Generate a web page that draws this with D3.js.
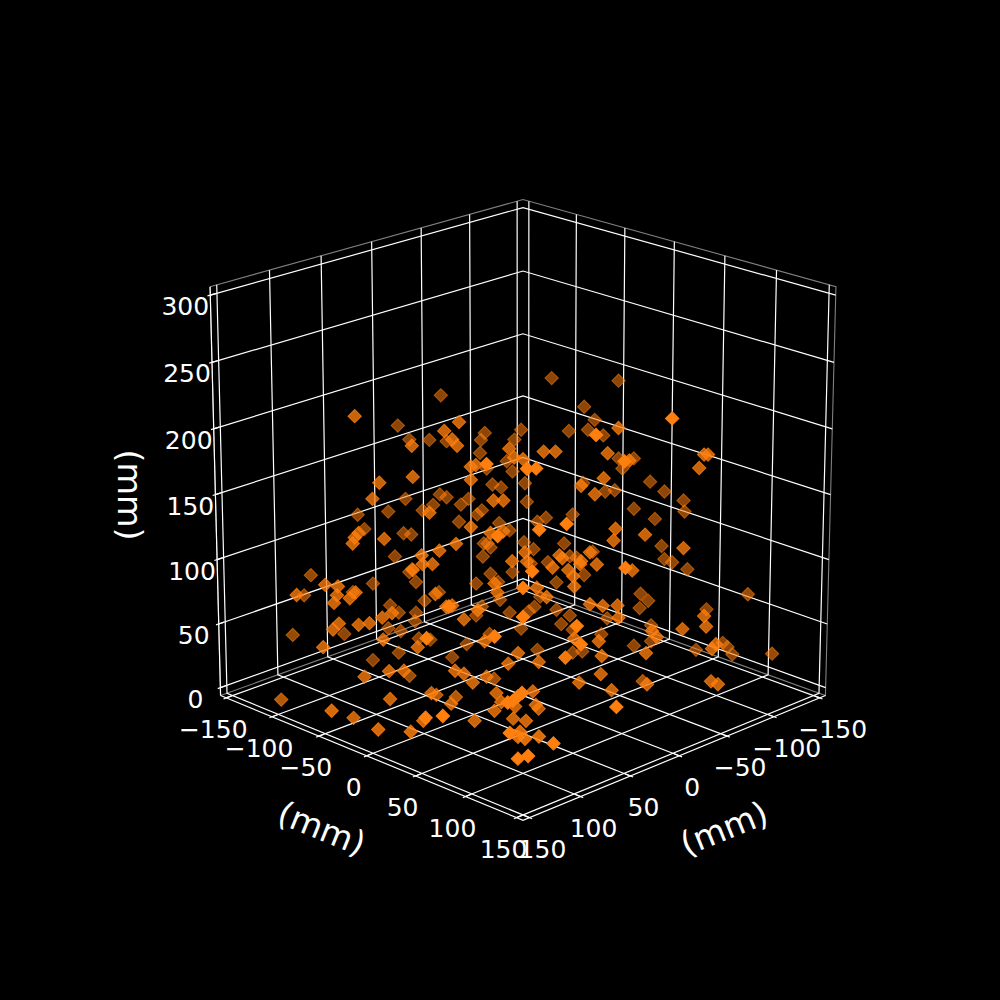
<!DOCTYPE html>
<html>
<head>
<meta charset="utf-8">
<script src="https://cdn.jsdelivr.net/npm/d3@7"></script>
<style>
html, body { margin: 0; background: #000; }
text { font-family: "DejaVu Sans"; fill: #fff; text-anchor: middle; }
</style>
</head>
<body>
<svg id="chart" width="1000" height="1000"></svg>
<script>
// values (mm)
var xs = [
 -37,72,-9,20,-13,48,-23,29,-32,26,25,-53,-50,-73,-68,-47,-1,-60,-2,-6,
 56,75,19,22,-48,-61,24,53,71,77,0,11,28,-19,-22,-33,-28,-13,-7,51,
 -48,-52,-65,16,11,-63,-38,-35,-24,32,-45,23,82,16,-49,-36,-33,-35,-54,-30,
 17,9,10,43,27,90,93,95,78,7,3,16,52,62,63,9,58,-98,-133,-110,
 -113,-24,-60,-108,-98,-115,16,-101,-99,-94,-50,-18,-24,-119,7,-127,-60,-119,51,-44,
 -96,-31,-131,-137,-111,-106,-37,-145,-144,-118,-127,-70,-85,-65,60,46,-41,-38,-55,-126,
 -72,-75,-58,-8,-9,-76,-79,-18,-24,-89,-25,-63,-2,-54,71,-125,-128,24,-42,-135,
 72,116,110,112,115,132,79,106,102,32,44,91,27,87,24,93,15,17,8,62,
 -1,11,69,9,120,116,56,106,100,32,26,96,128,46,31,18,134,12,80,118,
 58,55,52,-22,-31,30,-34,30,-31,-43,78,43,-16,-21,-34,83,-37,-6,-20,100,
 45,30,4,37,-10,-17,-11,-80,-64,-10,9,-53,6,-48,-44,-59,-65,-59,58,-64,
 -15,-21,-29,-27,-84,-106,-109,-103,-150,56,-58,-138,-71,-70,-106,-42,-43,-103,-78,-13,
 -1,59,-65,-60,-93,-35,-12,-42,21,-125,-69,-72,-140,-142,-143,-150,112,99,91,43,
 65,61,58,50,3,48,140,149,126,128,103,81,56,47,73,148,96,139,116,70,
 52,47,105,102,99,96,41,46,44,109,67,66,109,104,-8,4,-11,-69,-30,52,
 -63,-66,29,30,20,61,56,89
];
var ys = [
 -123,-99,-140,-45,-132,-65,-121,-51,-112,-46,-42,-93,-94,-75,-77,-92,-15,-77,-11,-6,
 60,39,-29,-31,-86,-72,-29,-59,-75,-76,-123,-130,-145,-106,-102,-90,-93,-107,-112,-44,
 -80,-75,-63,-14,-9,-59,-81,-83,-91,-21,-70,-10,57,-4,-63,-70,-74,-72,-53,-72,
 6,11,14,-25,-139,-77,-78,-78,-63,-118,-114,-118,-33,-41,-39,-107,-34,-68,-33,-46,
 -38,123,37,-40,-50,-31,88,87,85,85,36,3,9,-19,107,-11,48,-15,64,38,
 -33,28,2,11,-15,-20,36,23,25,-2,11,-46,-33,-50,76,89,53,54,69,19,
 91,-32,-47,29,31,-27,-23,41,44,-16,50,-37,28,-46,80,23,28,125,69,37,
 -149,-85,-78,-77,-77,-98,-149,-70,-68,-125,-134,-149,-112,-46,-106,-50,-97,-96,-95,-27,
 -89,-108,-43,-103,-73,-71,-131,-61,-56,-109,-102,-46,-75,-111,-99,-91,39,-85,-27,45,
 -20,-17,-8,-71,-65,1,-60,4,-55,-54,78,-3,-65,-64,-48,83,-39,-65,-55,72,
 6,25,-70,22,36,41,40,-16,-29,42,23,-35,30,-36,-38,-24,-16,-19,111,-12,
 53,60,67,70,4,17,22,19,84,98,104,54,113,116,28,89,93,31,4,64,
 51,116,-3,-8,23,90,68,-27,37,56,123,124,69,72,76,109,-49,-37,-30,-75,
 -4,1,7,13,-27,21,-108,-44,-46,-18,-32,-12,-33,-22,0,52,-5,60,3,21,
 23,25,90,92,94,95,33,36,47,96,62,68,104,109,71,61,79,55,96,144,
 128,132,39,43,36,58,72,119
];
var zs = [
 187,203,166,199,156,183,156,193,155,187,183,161,156,163,156,147,181,141,175,174,
 199,202,170,169,136,134,160,162,158,147,115,106,104,118,116,115,111,111,107,138,
 125,123,126,146,146,113,107,104,99,128,98,124,155,125,93,81,84,84,85,75,
 105,111,105,117,94,124,121,117,120,91,90,75,112,109,103,66,103,199,197,179,
 170,232,195,163,162,159,221,177,177,168,178,179,179,143,204,143,173,136,199,161,
 126,156,127,120,121,120,150,114,106,108,101,102,104,99,159,163,127,119,123,82,
 114,84,80,109,107,75,74,105,111,78,103,71,101,70,132,73,71,134,99,66,
 67,89,88,82,77,82,53,80,84,56,50,25,41,70,36,67,36,30,44,83,
 50,64,99,57,59,63,21,62,63,25,23,52,47,3,8,18,88,17,47,109,
 74,75,66,56,63,90,57,84,45,64,121,72,34,40,36,102,25,14,21,89,
 51,43,5,36,99,103,95,62,57,88,87,47,81,40,37,38,34,28,96,24,
 76,75,75,67,32,49,44,39,55,68,59,38,68,61,27,58,54,16,21,51,
 53,84,9,8,13,43,41,10,37,10,46,49,15,12,7,15,27,31,31,0,
 31,29,23,27,0,16,0,13,0,0,12,16,1,0,9,36,1,37,1,1,
 4,10,46,47,50,52,7,0,1,26,0,0,9,11,29,23,18,1,22,43,
 24,22,17,8,0,1,0,19
];
var xTicks = [-150, -100, -50, 0, 50, 100, 150];
var yTicks = [-150, -100, -50, 0, 50, 100, 150];
var zTicks = [0, 50, 100, 150, 200, 250, 300];
var axisTitle = "(mm)";

var lo = -156.25, hi = 156.25, zlo = -6.25, zhi = 306.25;
var orange = "#ff7f0e";

// mplot3d style camera
var elev = 20 * Math.PI / 180, azim = 45 * Math.PI / 180, dist = 10, S = 4350, cx = 523, cy = 494.6;
var w = [Math.cos(elev) * Math.cos(azim), Math.cos(elev) * Math.sin(azim), Math.sin(elev)],
    u = [-Math.sin(azim), Math.cos(azim), 0],
    v = [-Math.sin(elev) * Math.cos(azim), -Math.sin(elev) * Math.sin(azim), Math.cos(elev)];

var sx = d3.scaleLinear().domain([lo, hi]).range([-0.5, 0.5]),
    sz = d3.scaleLinear().domain([zlo, zhi]).range([-0.5, 0.5]);

function dot(a, b) { return a[0] * b[0] + a[1] * b[1] + a[2] * b[2]; }
function depth(x, y, z) { return dot([sx(x), sx(y), sz(z)], w); }
function project(x, y, z) {
  var p = [sx(x), sx(y), sz(z)], k = S / (dist - dot(p, w));
  return [cx + dot(p, u) * k, cy - dot(p, v) * k];
}

var svg = d3.select("#chart");
var line = d3.line();
function path3(pts, color, width) {
  svg.append("path")
    .attr("d", line(pts.map(function(p) { return project(p[0], p[1], p[2]); })))
    .attr("fill", "none")
    .attr("stroke", color)
    .attr("stroke-width", width);
}

// pane edges
var grey = "#808080";
path3([[hi, lo, zhi], [lo, lo, zhi], [lo, hi, zhi], [lo, hi, zlo], [lo, lo, zlo], [hi, lo, zlo], [hi, lo, zhi]], grey, 1.1);

// grid
zTicks.forEach(function(t) { path3([[hi, lo, t], [lo, lo, t], [lo, hi, t]], "#fff", 1.2); });
xTicks.forEach(function(t) { path3([[t, lo, zhi], [t, lo, zlo], [t, hi, zlo]], "#fff", 1.2); });
yTicks.forEach(function(t) { path3([[lo, t, zhi], [lo, t, zlo], [hi, t, zlo]], "#fff", 1.2); });

// axis lines and ticks
path3([[hi, lo, zlo], [hi, hi, zlo], [lo, hi, zlo]], "#fff", 1.2);
path3([[hi, lo, zlo], [hi, lo, zhi]], "#fff", 1.2);
var tOut = 2.6, tIn = 5.2;
xTicks.forEach(function(t) { path3([[t, hi + tOut, zlo], [t, hi - tIn, zlo]], "#fff", 1.2); });
yTicks.forEach(function(t) { path3([[hi + tOut, t, zlo], [hi - tIn, t, zlo]], "#fff", 1.2); });
zTicks.forEach(function(t) { path3([[hi + tOut, lo, t], [hi - tIn, lo, t]], "#fff", 1.2); });

// points, far ones first
var pts = xs.map(function(x, i) { return {x: x, y: ys[i], z: zs[i], d: depth(x, ys[i], zs[i])}; });
pts.sort(function(a, b) { return a.d - b.d; });
var shade = d3.scaleLinear().domain(d3.extent(pts, function(p) { return p.d; })).range([0.55, 1]);
svg.append("g").selectAll("path").data(pts).enter().append("path")
  .attr("d", d3.symbol().type(d3.symbolSquare).size(90))
  .attr("transform", function(p) { var q = project(p.x, p.y, p.z); return "translate(" + q[0] + "," + q[1] + ") rotate(45)"; })
  .attr("fill", orange)
  .attr("stroke", orange)
  .attr("stroke-width", 1)
  .attr("fill-opacity", function(p) { return shade(p.d); })
  .attr("stroke-opacity", function(p) { return shade(p.d); });

// tick labels
function fmt(t) { return t < 0 ? "\u2212" + (-t) : "" + t; }
function label(q, dx, dy, t) {
  svg.append("text").attr("x", q[0] + dx).attr("y", q[1] + dy + 9).attr("font-size", 25).text(fmt(t));
}
xTicks.forEach(function(t) { label(project(t, hi, zlo), 13, 31, t); });
yTicks.forEach(function(t) { label(project(hi, t, zlo), -13, 31, t); });
zTicks.forEach(function(t) { label(project(hi, lo, t), -25, 11, t); });

// axis titles
function title(x, y, rot) {
  svg.append("text").attr("transform", "translate(" + x + "," + y + ") rotate(" + rot + ")")
    .attr("dy", "0.36em").attr("font-size", 33.33).text(axisTitle);
}
title(322, 828, 22);
title(724, 828, -22);
title(130, 495, 90);
</script>
</body>
</html>
